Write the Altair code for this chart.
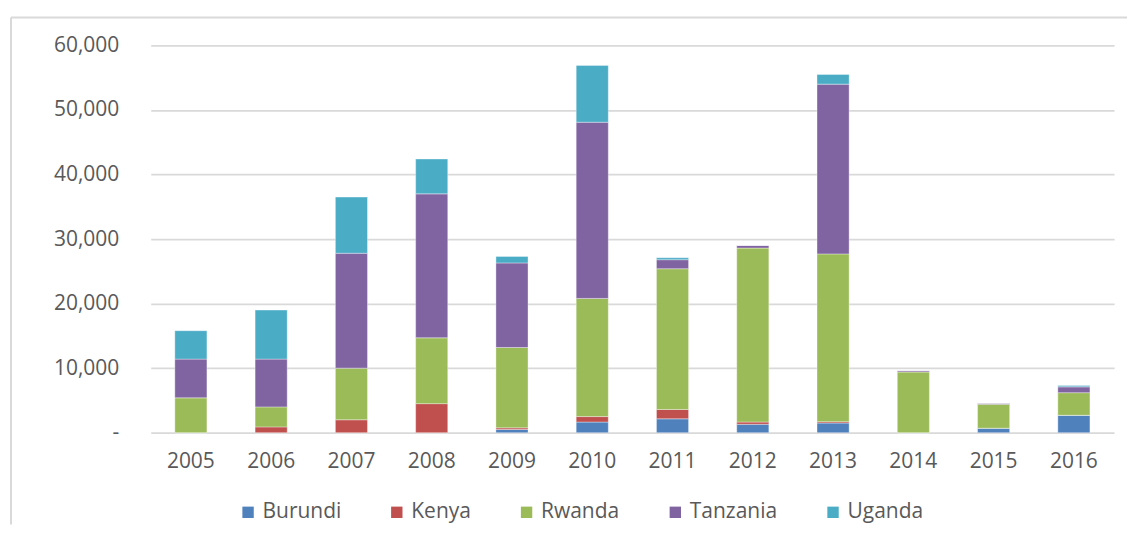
import altair as alt
import pandas as pd

years = ["2005", "2006", "2007", "2008", "2009", "2010", "2011", "2012", "2013", "2014", "2015", "2016"]
countries = ["Burundi", "Kenya", "Rwanda", "Tanzania", "Uganda"]
colors = ["#4F81BD", "#C0504D", "#9BBB59", "#8064A2", "#4BACC6"]

burundi = [0, 0, 0, 0, 500, 1650, 2150, 1300, 1500, 0, 700, 2700]
kenya = [0, 900, 2000, 4500, 250, 850, 1450, 350, 200, 0, 0, 0]
rwanda = [5400, 3100, 8000, 10200, 12450, 18300, 21800, 26950, 26000, 9400, 3700, 3500]
tanzania = [6000, 7400, 17800, 22300, 13100, 27300, 1400, 400, 26300, 200, 150, 900]
uganda = [4400, 7600, 8700, 5400, 1000, 8800, 300, 0, 1500, 0, 0, 200]

series = [burundi, kenya, rwanda, tanzania, uganda]
rows = []
for ci, (c, vals) in enumerate(zip(countries, series)):
    for y, v in zip(years, vals):
        rows.append({"Year": y, "Country": c, "Value": v, "Order": ci})
df = pd.DataFrame(rows)

font = "Open Sans"
txt = "#595959"

bars = alt.Chart(df).mark_bar(stroke="white", strokeWidth=0.6, strokeOpacity=0.6).encode(
    x=alt.X("Year:N", sort=years, title=None,
            scale=alt.Scale(paddingInner=0.6, paddingOuter=0.3),
            axis=alt.Axis(labelAngle=0, labelFontSize=21, labelColor=txt, labelFont=font,
                          ticks=False, domain=False, labelPadding=18)),
    y=alt.Y("Value:Q", stack="zero", title=None,
            scale=alt.Scale(domain=[0, 60000]),
            axis=alt.Axis(values=[0, 10000, 20000, 30000, 40000, 50000, 60000],
                          labelExpr="datum.value == 0 ? '-' : format(datum.value, ',')",
                          labelFontSize=21, labelColor=txt, labelFont=font,
                          ticks=False, domain=False, labelPadding=32,
                          gridColor="#d9d9d9", gridWidth=1.8)),
    color=alt.Color("Country:N", sort=countries,
                    scale=alt.Scale(domain=countries, range=colors),
                    legend=alt.Legend(orient="none", legendX=87, legendY=457,
                                      direction="horizontal", title=None,
                                      symbolType="square", symbolSize=130, symbolStrokeWidth=0,
                                      labelFontSize=21, labelColor=txt, labelFont=font,
                                      columnPadding=45)),
    order=alt.Order("Order:Q", sort="ascending"),
)

frame_df = pd.DataFrame({"k": [0]})
frame_top = alt.Chart(frame_df).mark_rule(color="#d9d9d9", strokeWidth=2).encode(
    x=alt.value(-140), x2=alt.value(978), y=alt.value(-28))
frame_left = alt.Chart(frame_df).mark_rule(color="#d9d9d9", strokeWidth=2).encode(
    x=alt.value(-140), y=alt.value(-28), y2=alt.value(480))

chart = alt.layer(frame_top, frame_left, bars).properties(
    width=965, height=388,
    padding={"left": 2, "top": 8, "right": 0, "bottom": 0},
).configure_view(stroke=None)

chart.save("out.html", embed_options={"renderer": "svg", "actions": False})
